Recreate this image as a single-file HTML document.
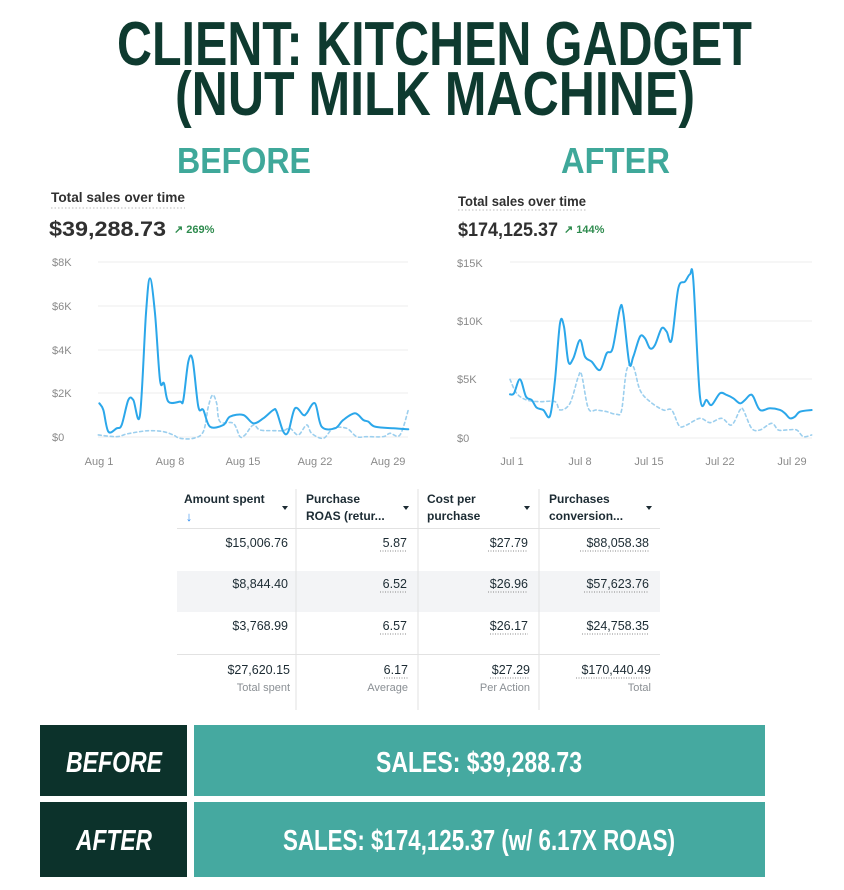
<!DOCTYPE html>
<html><head><meta charset="utf-8"><style>
html,body{margin:0;padding:0;background:#fff;width:844px;height:890px;overflow:hidden}
svg{display:block}
text{font-family:"Liberation Sans",sans-serif}
</style></head><body>
<svg width="844" height="890" viewBox="0 0 844 890" xmlns="http://www.w3.org/2000/svg">
<rect width="844" height="890" fill="#fff"/>
<text x="117" y="65" font-size="62" font-weight="bold" fill="#0e3a2f" textLength="635" lengthAdjust="spacingAndGlyphs">CLIENT: KITCHEN GADGET</text>
<text x="175" y="115" font-size="62" font-weight="bold" fill="#0e3a2f" textLength="520" lengthAdjust="spacingAndGlyphs">(NUT MILK MACHINE)</text>
<text x="177" y="173" font-size="36" font-weight="bold" fill="#3fa89a" textLength="134" lengthAdjust="spacingAndGlyphs">BEFORE</text>
<text x="561" y="173" font-size="36" font-weight="bold" fill="#3fa89a" textLength="109" lengthAdjust="spacingAndGlyphs">AFTER</text>

<text x="51" y="202" font-size="14" font-weight="bold" fill="#303030" textLength="134" lengthAdjust="spacingAndGlyphs">Total sales over time</text>
<line x1="51" y1="208" x2="185" y2="208" stroke="#bbb" stroke-dasharray="1.5,2"/>
<text x="49" y="236" font-size="21" font-weight="bold" fill="#303030" textLength="117" lengthAdjust="spacingAndGlyphs">$39,288.73</text>
<text x="174" y="233" font-size="11" font-weight="bold" fill="#2e8b4e">↗ 269%</text>
<g stroke="#ececec" stroke-width="1">
<line x1="98" y1="262" x2="408" y2="262"/><line x1="98" y1="306" x2="408" y2="306"/><line x1="98" y1="350" x2="408" y2="350"/><line x1="98" y1="393" x2="408" y2="393"/><line x1="98" y1="437" x2="408" y2="437"/>
</g>
<g font-size="11" fill="#8a8a8a">
<text x="52" y="266">$8K</text><text x="52" y="310">$6K</text><text x="52" y="354">$4K</text><text x="52" y="397">$2K</text><text x="52" y="441">$0</text>
<text x="99" y="465" text-anchor="middle">Aug 1</text><text x="170" y="465" text-anchor="middle">Aug 8</text><text x="243" y="465" text-anchor="middle">Aug 15</text><text x="315" y="465" text-anchor="middle">Aug 22</text><text x="388" y="465" text-anchor="middle">Aug 29</text>
</g>
<g transform="translate(40,180) scale(0.3333)" fill="none" stroke-linejoin="round" stroke-linecap="round">
<path class="sm" vector-effect="non-scaling-stroke" stroke="#9ccfee" stroke-width="1.6" stroke-dasharray="3,3" data-p="175,765 230,770 260,762 300,755 330,752 370,755 400,765 420,775 460,775 490,755 505,680 518,645 530,670 540,725 580,730 600,770 615,765 640,735 660,750 700,752 730,752 750,745 775,765 800,735 815,760 850,775 880,745 920,745 950,770 980,770 1030,770 1050,760 1080,765 1105,690"/>
<path class="sm" vector-effect="non-scaling-stroke" stroke="#2ba7ea" stroke-width="2" data-p="178,670 190,690 205,755 230,745 245,735 265,660 280,660 300,705 318,400 330,295 345,400 360,600 372,610 385,665 420,665 430,660 445,545 458,540 475,680 490,690 510,740 550,735 570,710 610,705 640,730 670,715 700,690 710,695 730,755 745,755 765,685 790,705 800,700 825,670 845,740 885,745 910,720 945,700 970,720 985,725 1005,740 1060,745 1105,748"/>
</g>

<text x="458" y="206" font-size="14" font-weight="bold" fill="#303030" textLength="128" lengthAdjust="spacingAndGlyphs">Total sales over time</text>
<line x1="458" y1="210" x2="586" y2="210" stroke="#bbb" stroke-dasharray="1.5,2"/>
<text x="458" y="236" font-size="19" font-weight="bold" fill="#303030" textLength="100" lengthAdjust="spacingAndGlyphs">$174,125.37</text>
<text x="564" y="233" font-size="11" font-weight="bold" fill="#2e8b4e">↗ 144%</text>
<g stroke="#ececec" stroke-width="1">
<line x1="510" y1="262" x2="812" y2="262"/><line x1="510" y1="321" x2="812" y2="321"/><line x1="510" y1="379" x2="812" y2="379"/><line x1="510" y1="438" x2="812" y2="438"/>
</g>
<g font-size="11" fill="#8a8a8a">
<text x="457" y="267">$15K</text><text x="457" y="325">$10K</text><text x="457" y="383">$5K</text><text x="457" y="442">$0</text>
<text x="512" y="465" text-anchor="middle">Jul 1</text><text x="580" y="465" text-anchor="middle">Jul 8</text><text x="649" y="465" text-anchor="middle">Jul 15</text><text x="720" y="465" text-anchor="middle">Jul 22</text><text x="792" y="465" text-anchor="middle">Jul 29</text>
</g>
<g transform="translate(440,180) scale(0.3333)" fill="none" stroke-linejoin="round" stroke-linecap="round">
<path class="sm" vector-effect="non-scaling-stroke" stroke="#9ccfee" stroke-width="1.6" stroke-dasharray="3,3" data-p="210,598 230,640 260,660 300,665 345,665 360,690 390,670 415,590 425,585 445,685 470,690 500,695 530,703 545,690 560,570 580,560 600,630 630,665 670,690 695,690 718,738 740,735 780,715 810,728 845,715 875,735 900,690 910,690 935,745 960,750 995,730 1015,750 1040,750 1070,750 1090,770 1115,765"/>
<path class="sm" vector-effect="non-scaling-stroke" stroke="#2ba7ea" stroke-width="2" data-p="210,643 222,640 240,598 258,650 275,660 290,683 310,690 330,708 345,600 360,430 372,440 385,545 400,535 420,480 435,530 455,545 480,570 500,520 518,505 540,385 550,400 568,550 580,530 600,470 615,475 630,505 645,495 665,445 680,455 695,480 715,325 735,305 750,283 760,300 780,650 800,660 815,675 840,640 860,645 880,655 900,670 915,660 930,645 940,650 960,690 990,685 1020,690 1035,700 1050,715 1065,710 1080,695 1115,690"/>
</g>

<rect x="177" y="571" width="483" height="41" fill="#f3f4f6"/>
<g stroke="#e2e2e2" stroke-width="1">
<line x1="296" y1="489" x2="296" y2="710"/><line x1="418" y1="489" x2="418" y2="710"/><line x1="539" y1="489" x2="539" y2="710"/>
<line x1="177" y1="528.5" x2="660" y2="528.5"/><line x1="177" y1="654.5" x2="660" y2="654.5"/>
</g>
<g font-size="12" font-weight="bold" fill="#1c2b33">
<text x="184" y="503">Amount spent</text>
<text x="306" y="503">Purchase</text><text x="306" y="520">ROAS (retur...</text>
<text x="427" y="503">Cost per</text><text x="427" y="520">purchase</text>
<text x="549" y="503">Purchases</text><text x="549" y="520">conversion...</text>
</g>
<text x="189" y="521" font-size="13" font-weight="bold" fill="#2f8cf0" text-anchor="middle">↓</text>
<g fill="#1c2b33">
<path d="M282,506 l6,0 l-3,4z"/><path d="M403,506 l6,0 l-3,4z"/><path d="M524,506 l6,0 l-3,4z"/><path d="M646,506 l6,0 l-3,4z"/>
</g>
<g font-size="12.5" fill="#1c2b33" text-anchor="end">
<text x="288" y="547">$15,006.76</text><text x="407" y="547">5.87</text><text x="528" y="547">$27.79</text><text x="649" y="547">$88,058.38</text>
<text x="288" y="588">$8,844.40</text><text x="407" y="588">6.52</text><text x="528" y="588">$26.96</text><text x="649" y="588">$57,623.76</text>
<text x="288" y="630">$3,768.99</text><text x="407" y="630">6.57</text><text x="528" y="630">$26.17</text><text x="649" y="630">$24,758.35</text>
<text x="290" y="674">$27,620.15</text><text x="408" y="674">6.17</text><text x="530" y="674">$27.29</text><text x="651" y="674">$170,440.49</text>
</g>
<g font-size="11" fill="#8a8f94" text-anchor="end">
<text x="290" y="691">Total spent</text><text x="408" y="691">Average</text><text x="530" y="691">Per Action</text><text x="651" y="691">Total</text>
</g>
<g stroke="#888" stroke-width="1" stroke-dasharray="1,1.5">
<line x1="380" y1="551" x2="407" y2="551"/><line x1="488" y1="551" x2="528" y2="551"/><line x1="580" y1="551" x2="649" y2="551"/>
<line x1="380" y1="592" x2="407" y2="592"/><line x1="488" y1="592" x2="528" y2="592"/><line x1="584" y1="592" x2="649" y2="592"/>
<line x1="380" y1="634" x2="407" y2="634"/><line x1="490" y1="634" x2="528" y2="634"/><line x1="582" y1="634" x2="649" y2="634"/>
<line x1="384" y1="678" x2="408" y2="678"/><line x1="490" y1="678" x2="530" y2="678"/><line x1="576" y1="678" x2="651" y2="678"/>
</g>

<rect x="40" y="725" width="147" height="71" fill="#0c322b"/>
<rect x="194" y="725" width="571" height="71" fill="#45a9a0"/>
<rect x="40" y="802" width="147" height="75" fill="#0c322b"/>
<rect x="194" y="802" width="571" height="75" fill="#45a9a0"/>
<g font-weight="bold" fill="#fff">
<text x="66" y="772" font-size="29" font-style="italic" textLength="96" lengthAdjust="spacingAndGlyphs">BEFORE</text>
<text x="76" y="850" font-size="29" font-style="italic" textLength="76" lengthAdjust="spacingAndGlyphs">AFTER</text>
<text x="376" y="772" font-size="29" textLength="206" lengthAdjust="spacingAndGlyphs">SALES: $39,288.73</text>
<text x="283" y="850" font-size="29" textLength="392" lengthAdjust="spacingAndGlyphs">SALES: $174,125.37 (w/ 6.17X ROAS)</text>
</g>
</svg>
<script>
document.querySelectorAll('path.sm').forEach(function(el){
  var p=el.getAttribute('data-p').trim().split(/\s+/).map(function(s){return s.split(',').map(Number);});
  var d='M'+p[0][0]+','+p[0][1];
  for(var i=0;i<p.length-1;i++){
    var p0=p[i-1]||p[i],p1=p[i],p2=p[i+1],p3=p[i+2]||p2,t=6;
    var c1x=p1[0]+(p2[0]-p0[0])/t,c1y=p1[1]+(p2[1]-p0[1])/t;
    var c2x=p2[0]-(p3[0]-p1[0])/t,c2y=p2[1]-(p3[1]-p1[1])/t;
    d+=' C'+c1x+','+c1y+' '+c2x+','+c2y+' '+p2[0]+','+p2[1];
  }
  el.setAttribute('d',d);
});
</script>
</body></html>
